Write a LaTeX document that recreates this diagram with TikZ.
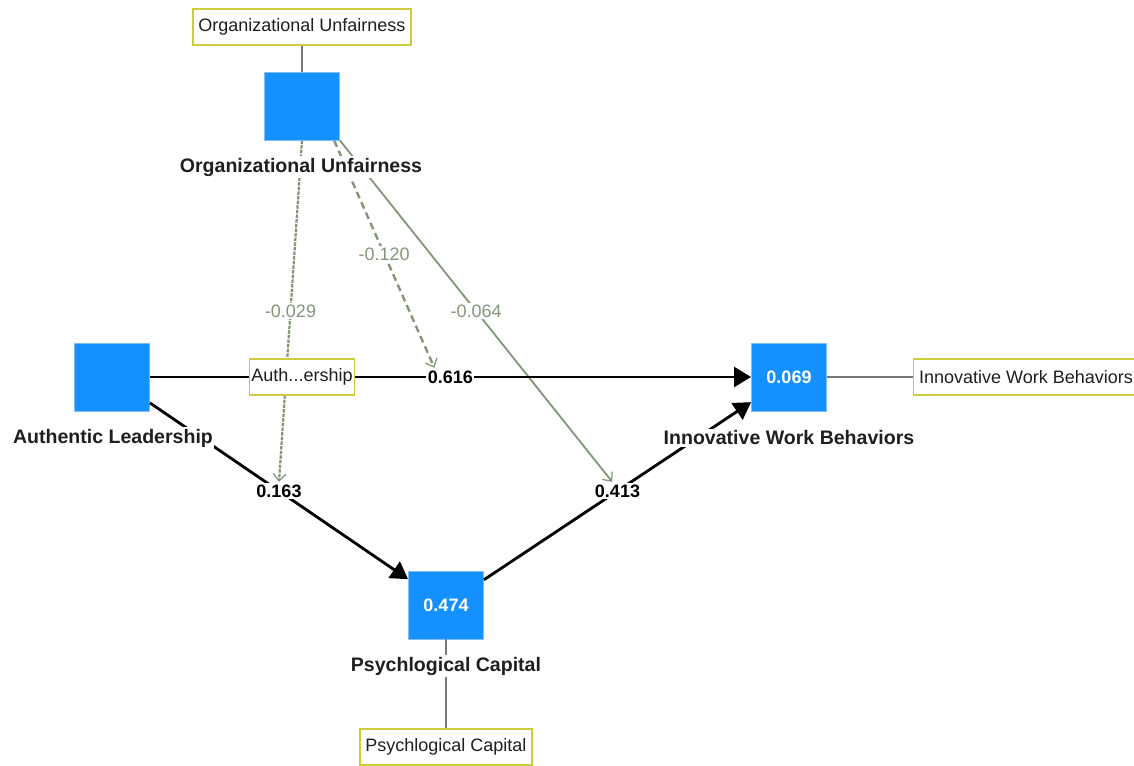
\documentclass[tikz,border=0pt]{standalone}
\usepackage{fontspec}
\setmainfont{Liberation Sans}
\usetikzlibrary{arrows.meta}

\definecolor{lvblue}{RGB}{20,145,255}
\definecolor{lvedge}{RGB}{125,190,250}
\definecolor{indyellow}{RGB}{205,205,60}
\definecolor{modgreen}{RGB}{130,150,120}
\definecolor{indgray}{RGB}{120,120,120}

\pgfdeclarelayer{bg}
\pgfsetlayers{bg,main}

\tikzset{
  latent/.style={fill=lvblue,draw=lvedge,line width=0.6pt,minimum width=1.875cm,minimum height=1.7cm,inner sep=0pt,text=white,font=\fontsize{12.8}{15}\selectfont\bfseries},
  lvname/.style={fill=white,inner sep=1pt,text=black!88,font=\fontsize{13.9}{16}\selectfont\bfseries},
  indbox/.style={draw=indyellow,fill=white,line width=1.1pt,minimum height=0.9cm,inner xsep=0.14cm,text=black!88,font=\fontsize{12.8}{15}\selectfont},
  pathline/.style={line width=2pt,-{Triangle[length=12pt,width=14pt]}},
  coef/.style={fill=white,inner sep=1pt,font=\fontsize{12.8}{15}\selectfont\bfseries},
  modline/.style={draw=modgreen,line width=1.3pt,-{Straight Barb[length=5pt,width=9pt,line width=0.9pt]}},
  modcoef/.style={fill=white,text=modgreen,inner sep=1pt,font=\fontsize{12.8}{15}\selectfont},
  indline/.style={draw=indgray,line width=1.8pt},
}

\begin{document}
\begin{tikzpicture}[x=0.025cm,y=-0.025cm]
\useasboundingbox (0,0) rectangle (1134,765);

% latent variables
\node[latent] (ou) at (302,106) {};
\node[latent] (al) at (112,377) {};
\node[latent] (iwb) at (789,377) {0.069};
\node[latent] (pc) at (446,605) {0.474};

% indicators
\node[indbox] (ouInd) at (302,27) {Organizational Unfairness};
\node[indbox] (iwbInd) at (1026,377) {Innovative Work Behaviors};
\node[indbox] (pcInd) at (446,747) {Psychlogical Capital};
\node[indbox,inner xsep=0.05cm] (mod) at (302,377) {Auth...ership};

\draw[indline] (ou) -- (ouInd);
\draw[indline] (iwb) -- (iwbInd);
\draw[indline] (pc) -- (pcInd);

% structural paths
\draw[pathline] (al) -- (mod) -- node[coef,pos=0.24] (l616) {0.616} (iwb);
\draw[pathline] (al) -- node[coef] (l163) {0.163} (pc);
\draw[pathline] (pc) -- node[coef] (l413) {0.413} (iwb);

% moderating effects
\begin{pgfonlayer}{bg}
\draw[modline,line width=1.6pt,dash pattern=on 2.5pt off 0.8pt] (ou.south) -- node[modcoef] (c029) {-0.029} (l163.north);
\draw[modline,line width=1.7pt,dash pattern=on 5pt off 3pt] (ou.-47) -- node[modcoef] (c120) {-0.120} (l616.150);
\draw[modline] (ou.south east) -- node[modcoef] (c064) {-0.064} (l413.120);
\end{pgfonlayer}

% names
\node[lvname] (ouName) at (301,167) {Organizational Unfairness};
\node[lvname] (alName) at (113,438) {Authentic Leadership};
\node[lvname] (iwbName) at (789,438) {Innovative Work Behaviors};
\node[lvname] (pcName) at (446,666) {Psychlogical Capital};
\end{tikzpicture}
\end{document}
